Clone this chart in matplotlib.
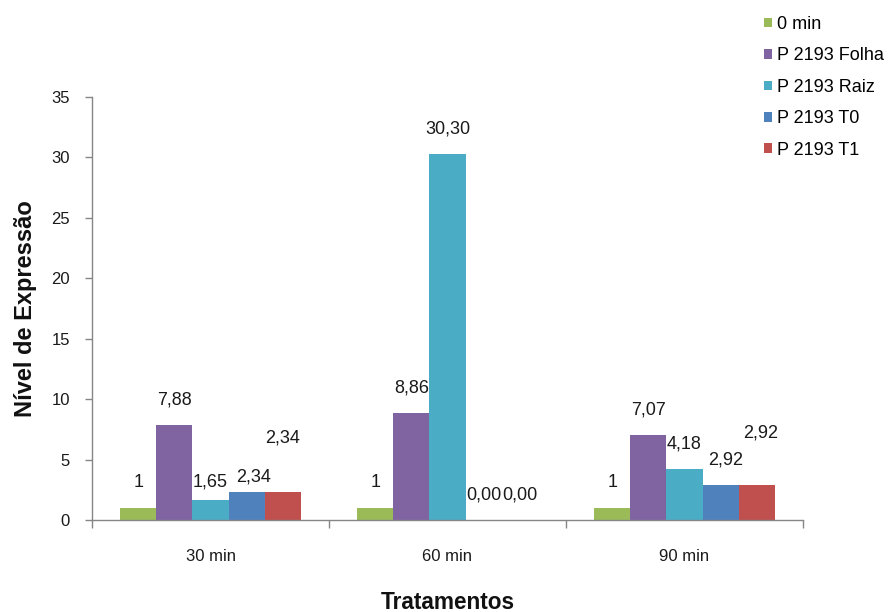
import matplotlib
matplotlib.use("Agg")
import matplotlib.pyplot as plt
from matplotlib.patches import Patch
import numpy as np

plt.rcParams['font.family'] = ['Liberation Sans', 'DejaVu Sans']

# Data
categories = ["30 min", "60 min", "90 min"]
series_names = ["0 min", "P 2193 Folha", "P 2193 Raiz", "P 2193 T0", "P 2193 T1"]
values_0min = [1.00, 1.00, 1.00]
values_folha = [7.88, 8.86, 7.07]
values_raiz = [1.65, 30.30, 4.18]
values_t0 = [2.34, 0.00, 2.92]
values_t1 = [2.34, 0.00, 2.92]
y_ticks = [0, 5, 10, 15, 20, 25, 30, 35]

series_values = [values_0min, values_folha, values_raiz, values_t0, values_t1]
colors = ["#9BBB59", "#8064A2", "#4BACC6", "#4F81BD", "#C0504D"]


def fmt(v, s):
    # the baseline series is shown as an integer, the rest with two decimals
    if s == 0:
        return f"{v:.0f}"
    return f"{v:.2f}".replace(".", ",")


# Hand-placed label nudges (pixels) for labels moved off their default spot
label_nudge = {(0, 2): (0, -7), (0, 3): (7, -10), (0, 4): (0, 29),
               (2, 3): (5, 0), (2, 4): (4, 27)}

fig = plt.figure(figsize=(8.9, 6.12), dpi=100)
ax = fig.add_axes([92 / 890, 1 - 520 / 612, (803 - 92) / 890, (520 - 97) / 612])

n_series = len(series_values)
bar_w = 0.1526
x = np.arange(len(categories))
for s, (vals, col) in enumerate(zip(series_values, colors)):
    pos = x + (s - (n_series - 1) / 2) * bar_w
    ax.bar(pos, vals, width=bar_w, color=col, edgecolor="none", zorder=2)
    for c, (px, v) in enumerate(zip(pos, vals)):
        dx, dy = label_nudge.get((c, s), (0, 0))
        ax.annotate(fmt(v, s), xy=(px, v), xytext=(dx, 25 + dy),
                    textcoords="offset pixels", ha="center", va="center",
                    fontsize=13, color="#1a1a1a")

ax.set_xlim(-0.5, len(categories) - 0.5)
ax.set_ylim(0, 35)
ax.set_yticks(y_ticks)
ax.set_yticklabels([str(t) for t in y_ticks])

ax.set_xticks(x)
ax.set_xticklabels(categories)
ax.set_xticks(np.arange(len(categories) + 1) - 0.5, minor=True)
ax.tick_params(axis="x", which="major", length=0, pad=21, labelsize=12, labelcolor="#1a1a1a")
ax.tick_params(axis="x", which="minor", length=6, width=1, color="#868686", direction="out")
ax.tick_params(axis="y", length=5, width=1, color="#868686", direction="out", pad=11,
               labelsize=12, labelcolor="#1a1a1a")

for side in ("top", "right"):
    ax.spines[side].set_visible(False)
for side in ("left", "bottom"):
    ax.spines[side].set_color("#868686")
    ax.spines[side].set_linewidth(1)

ax.set_ylabel("Nível de Expressão", fontsize=17, fontweight="bold", color="#111111")
ax.yaxis.set_label_coords(-0.093, 0.5)
ax.yaxis.label.set_va("center")
ax.set_xlabel("Tratamentos", fontsize=16.3, fontweight="bold", color="#111111")
ax.xaxis.set_label_coords(0.5, -0.194)
ax.xaxis.label.set_va("center")

handles = [Patch(facecolor=c, edgecolor="none") for c in colors]
fig.legend(handles, series_names, loc="upper left",
           bbox_to_anchor=(764 / 890, 1 - 16 / 612), frameon=False,
           fontsize=13, handlelength=0.45, handleheight=0.45, handletextpad=0.25,
           labelspacing=0.8, borderpad=0, borderaxespad=0)

fig.savefig("out.png", dpi=100)
